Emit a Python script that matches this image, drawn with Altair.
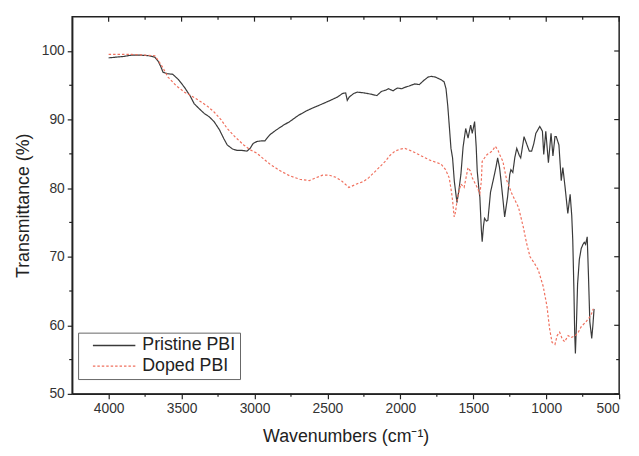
import altair as alt
import pandas as pd

# ---------------- data ----------------
pristine_wn = [4000, 3950, 3900, 3842, 3780, 3720, 3683, 3660, 3640, 3627, 3600, 3560, 3520, 3480,
               3440, 3413, 3380, 3345, 3310, 3277, 3240, 3210, 3187, 3150, 3120, 3085, 3052, 3030,
               3010, 2984, 2950, 2928, 2910, 2894, 2850, 2800, 2759, 2700, 2650, 2600, 2533, 2480,
               2430, 2397, 2375, 2364, 2350, 2320, 2296, 2250, 2200, 2161, 2130, 2100, 2082, 2050,
               2020, 1990, 1969, 1940, 1901, 1870, 1840, 1810, 1789, 1760, 1720, 1700, 1687, 1675,
               1665, 1653, 1642, 1630, 1612, 1600, 1585, 1570, 1552, 1536, 1518, 1507, 1491, 1480,
               1473, 1460, 1455, 1445, 1439, 1430, 1423, 1410, 1400, 1382, 1360, 1345, 1333, 1320,
               1310, 1295, 1285, 1265, 1250, 1242, 1229, 1215, 1202, 1185, 1175, 1152, 1135, 1116,
               1100, 1085, 1071, 1044, 1026, 1017, 1003, 985, 967, 954, 940, 931, 913, 897, 886,
               870, 852, 836, 825, 818, 810, 805, 800, 793, 785, 773, 760, 748, 739, 730, 719, 710,
               701, 688, 680, 672]
pristine_t = [99.0, 99.1, 99.2, 99.4, 99.4, 99.3, 99.1, 98.5, 97.6, 96.9, 96.7, 96.6, 95.8, 94.7,
              93.4, 92.3, 91.6, 90.9, 90.4, 89.7, 88.5, 87.2, 86.3, 85.7, 85.5, 85.5, 85.4, 85.8,
              86.5, 86.8, 86.9, 86.9, 87.4, 87.8, 88.5, 89.2, 89.7, 90.6, 91.2, 91.7, 92.3, 92.8,
              93.3, 93.8, 93.9, 92.8, 93.3, 93.8, 94.0, 93.9, 93.7, 93.5, 94.1, 94.3, 94.5, 94.2,
              94.6, 94.5, 94.7, 94.9, 95.2, 95.1, 95.7, 96.2, 96.3, 96.2, 95.8, 95.5, 94.5, 92.0,
              89.2, 85.8, 84.4, 81.0, 77.9, 79.5, 82.0, 86.0, 88.7, 87.3, 89.2, 88.0, 89.7, 86.0,
              82.5, 79.5, 78.7, 74.0, 72.2, 74.5, 75.6, 75.2, 75.3, 79.4, 81.5, 83.0, 84.4, 83.0,
              81.1, 78.0, 75.8, 78.7, 82.0, 82.7, 82.3, 84.5, 85.8, 84.8, 84.4, 87.5, 86.5, 85.4,
              85.4, 86.5, 88.0, 89.0, 88.3, 84.9, 88.3, 83.7, 88.0, 84.7, 87.5, 87.5, 86.3, 81.1, 83.0,
              80.0, 76.3, 79.1, 76.0, 72.4, 65.0, 59.0, 55.9, 60.0, 66.0, 69.6, 71.2, 71.8, 72.1, 71.8, 72.9, 67.0,
              60.5, 58.1, 60.0, 62.4]

doped_wn = [4000, 3900, 3842, 3750, 3683, 3640, 3593, 3540, 3480, 3420, 3368, 3320, 3277, 3230,
            3187, 3130, 3074, 3030, 2984, 2940, 2894, 2830, 2759, 2690, 2624, 2580, 2533, 2490,
            2443, 2400, 2353, 2300, 2250, 2218, 2160, 2104, 2070, 2037, 2000, 1969, 1920, 1856,
            1800, 1760, 1721, 1690, 1665, 1650, 1642, 1631, 1622, 1608, 1585, 1563, 1550, 1536,
            1520, 1507, 1490, 1473, 1455, 1445, 1439, 1420, 1405, 1371, 1349, 1330, 1319, 1297,
            1284, 1270, 1236, 1190, 1157, 1135, 1111, 1080, 1055, 1021, 995, 977, 960, 940, 925,
            908, 890, 874, 850, 830, 800, 780, 760, 728, 710, 694, 678]
doped_t = [99.5, 99.5, 99.5, 99.4, 99.3, 98.0, 96.2, 95.0, 94.0, 93.3, 92.6, 91.9, 91.1, 90.0,
           88.7, 87.4, 86.3, 85.6, 85.1, 84.3, 83.5, 82.6, 81.8, 81.3, 81.1, 81.5, 81.9, 81.9,
           81.6, 81.0, 80.1, 80.6, 81.0, 81.5, 82.7, 83.9, 84.8, 85.4, 85.7, 85.8, 85.4, 84.7,
           84.1, 83.8, 83.5, 82.7, 81.5, 79.5, 78.2, 75.8, 76.5, 78.7, 80.6, 80.1, 81.5, 83.0,
           82.5, 81.5, 80.8, 80.1, 79.2, 81.0, 83.9, 84.5, 84.9, 85.4, 86.1, 85.5, 84.9, 83.9,
           82.5, 81.1, 79.2, 77.2, 74.3, 72.0, 70.0, 69.0, 68.1, 65.7, 62.8, 59.5, 57.5, 57.2, 58.5,
           59.0, 58.0, 57.6, 58.5, 58.2, 58.5, 59.0, 59.8, 60.5, 61.0, 61.4, 62.4]

series_names = ["Pristine PBI", "Doped PBI"]
series_colors = ["#3a3a3a", "#f0705e"]

x_major = [500, 1000, 1500, 2000, 2500, 3000, 3500, 4000]
x_minor = [750, 1250, 1750, 2250, 2750, 3250, 3750]
y_major = [50, 60, 70, 80, 90, 100]
y_minor = [55, 65, 75, 85, 95]

df = pd.concat([
    pd.DataFrame({"wn": pristine_wn, "t": pristine_t, "series": series_names[0]}),
    pd.DataFrame({"wn": doped_wn, "t": doped_t, "series": series_names[1]}),
])
xmaj_df = pd.DataFrame({"v": x_major})
xmin_df = pd.DataFrame({"v": x_minor})
ymaj_df = pd.DataFrame({"v": y_major})
ymin_df = pd.DataFrame({"v": y_minor})

FONT = "Liberation Sans"
W, H = 554, 382
TICK = "#222"

x_scale = alt.Scale(domain=[500, 4250], reverse=True, nice=False, zero=False)
y_scale = alt.Scale(domain=[50, 105], nice=False, zero=False)

legend = alt.Legend(
    orient="none", legendX=6, legendY=320, title=None,
    symbolType="stroke", symbolSize=1850, symbolStrokeWidth=1.3, clipHeight=18,
    labelFont=FONT, labelFontSize=18, labelColor="#222",
    strokeColor="#666", fillColor="white", padding=4,
    symbolOffset=10, labelOffset=6, rowPadding=3,
)

base = alt.Chart(df).mark_line(strokeWidth=1.2).encode(
    x=alt.X("wn:Q", scale=x_scale, title="Wavenumbers (cm⁻¹)",
            axis=alt.Axis(values=x_major, format="d", tickSize=5,
                          labelPadding=3, titlePadding=12, labelFontSize=14, titleFontSize=18)),
    y=alt.Y("t:Q", scale=y_scale, title="Transmittance (%)",
            axis=alt.Axis(values=y_major, format="d", tickSize=5,
                          labelPadding=3, titlePadding=9, labelFontSize=14, titleFontSize=18)),
    color=alt.Color("series:N", scale=alt.Scale(domain=series_names, range=series_colors), legend=legend),
    strokeDash=alt.StrokeDash("series:N", scale=alt.Scale(domain=series_names, range=[[1, 0], [2.5, 2]]), legend=legend),
)

def xticks(data, y0, y1):
    return alt.Chart(data).mark_rule(color=TICK, strokeWidth=1.2).encode(
        x=alt.X("v:Q", scale=x_scale, axis=None), y=alt.value(y0), y2=alt.value(y1))

def yticks(data, x0, x1):
    return alt.Chart(data).mark_rule(color=TICK, strokeWidth=1.2).encode(
        y=alt.Y("v:Q", scale=y_scale, axis=None), x=alt.value(x0), x2=alt.value(x1))

layers = [
    base,
    xticks(xmin_df, H, H + 3),        # bottom minor, outward
    xticks(xmaj_df, 0, 5),            # top major, inward
    xticks(xmin_df, 0, 3),            # top minor, inward
    yticks(ymin_df, 0, -3),           # left minor, outward
    yticks(ymaj_df, W, W - 5),        # right major, inward
    yticks(ymin_df, W, W - 3),        # right minor, inward
]

chart = alt.layer(*layers).resolve_axis(x="independent", y="independent").properties(
    width=W, height=H,
    autosize=alt.AutoSizeParams(type="none"),
    padding={"left": 65, "top": 6, "right": 12, "bottom": 52},
).configure_view(
    stroke="#222", strokeWidth=1.5
).configure_axis(
    grid=False, labelFont=FONT, titleFont=FONT, labelColor="#333", titleColor="#222",
    titleFontWeight="normal", domainColor="#222", tickColor=TICK, domainWidth=1.5, tickWidth=1.2,
)

chart.save("out.html", embed_options={"renderer": "svg", "actions": False})
